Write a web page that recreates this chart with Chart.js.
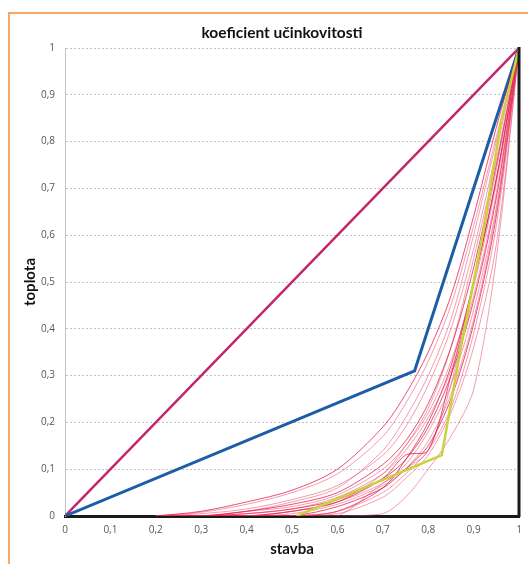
<!DOCTYPE html>
<html>
<head>
<meta charset="utf-8">
<script src="https://cdn.jsdelivr.net/npm/chart.js@4.4.1/dist/chart.umd.min.js"></script>
<style>
  html, body { margin: 0; padding: 0; background: #fff; overflow: hidden; }
  #frame { position: absolute; left: 8px; top: 12px; width: 540px; height: 580px;
           border: 2px solid #f8a766; box-sizing: border-box; }
  #wrap { position: absolute; left: 0; top: 0; width: 528px; height: 564px; }
</style>
</head>
<body>
<div id="frame"></div>
<div id="wrap"><canvas id="chart" width="528" height="564"></canvas></div>
<script>
// axis ticks
var tickValues = [0, 0.1, 0.2, 0.3, 0.4, 0.5, 0.6, 0.7, 0.8, 0.9, 1];
var chartTitle = 'koeficient učinkovitosti';

// reference lines
var diagX = [0, 1];
var diagY = [0, 1];
var blueX = [0, 0.77, 1];
var blueY = [0, 0.31, 1];
var yellowX = [0.51, 0.83, 0.87, 0.92, 0.96, 1];
var yellowY = [0, 0.13, 0.35, 0.6, 0.84, 1];

// thin red curves, all read at the same x positions
var curveX = [0.2, 0.3, 0.4, 0.5, 0.6, 0.7, 0.75, 0.8, 0.85, 0.9, 0.95, 1];
var redCurves = [
  [0, 0.01, 0.03, 0.055, 0.1, 0.19, 0.26, 0.35, 0.47, 0.64, 0.83, 1],
  [0, 0.008, 0.025, 0.05, 0.09, 0.17, 0.24, 0.33, 0.45, 0.62, 0.81, 1],
  [0, 0.005, 0.015, 0.035, 0.065, 0.13, 0.19, 0.28, 0.4, 0.57, 0.78, 1],
  [0, 0, 0.01, 0.025, 0.05, 0.11, 0.16, 0.24, 0.36, 0.53, 0.75, 1],
  [0, 0, 0.01, 0.02, 0.045, 0.1, 0.15, 0.22, 0.33, 0.49, 0.71, 1],
  [0, 0, 0.005, 0.015, 0.04, 0.09, 0.14, 0.21, 0.31, 0.47, 0.69, 1],
  [0, 0, 0.005, 0.015, 0.035, 0.08, 0.12, 0.19, 0.3, 0.46, 0.68, 1],
  [0, 0, 0, 0.01, 0.03, 0.07, 0.11, 0.18, 0.28, 0.44, 0.66, 1],
  [0, 0, 0, 0.005, 0.025, 0.065, 0.1, 0.16, 0.26, 0.42, 0.65, 1],
  [0, 0, 0, 0, 0.02, 0.06, 0.1, 0.15, 0.25, 0.41, 0.64, 1],
  [0, 0, 0, 0, 0.01, 0.05, 0.09, 0.14, 0.23, 0.39, 0.62, 1],
  [0, 0, 0, 0, 0.005, 0.04, 0.08, 0.13, 0.22, 0.36, 0.58, 1],
  [0, 0, 0, 0.01, 0.03, 0.08, 0.13, 0.14, 0.3, 0.5, 0.72, 1],
  [0, 0, 0, 0, 0, 0.005, 0.04, 0.1, 0.17, 0.27, 0.55, 1],
  [0, 0, 0, 0, 0, 0.07, 0.1, 0.14, 0.28, 0.5, 0.74, 1],
  [0, 0, 0, 0, 0.01, 0.06, 0.12, 0.2, 0.32, 0.5, 0.72, 1],
  [0, 0, 0.01, 0.03, 0.06, 0.14, 0.21, 0.3, 0.42, 0.6, 0.8, 1],
  [0, 0, 0, 0.01, 0.03, 0.09, 0.15, 0.23, 0.36, 0.55, 0.76, 1]
];

function pts(xs, ys) {
  return xs.map(function (x, i) { return { x: x, y: ys[i] }; });
}

var datasets = [];
datasets.push({ data: pts(yellowX, yellowY), borderColor: '#c9d23c', borderWidth: 2.5 });
redCurves.forEach(function (ys, i) {
  datasets.push({
    data: pts(curveX, ys),
    borderColor: i % 3 == 0 ? 'rgba(226,20,70,0.75)' : 'rgba(232,60,100,0.5)',
    borderWidth: 1,
    tension: 0.3
  });
});
datasets.push({ data: pts(blueX, blueY), borderColor: '#1d5ca6', borderWidth: 3 });
datasets.push({ data: pts(diagX, diagY), borderColor: '#c2256c', borderWidth: 2.5 });

// thick black right edge of the plot + title text
var frameBits = {
  id: 'frameBits',
  afterDraw: function (chart) {
    var a = chart.chartArea, c = chart.ctx;
    c.save();
    c.strokeStyle = '#1a1a1a';
    c.lineWidth = 3;
    c.beginPath();
    c.moveTo(a.right, a.top - 1);
    c.lineTo(a.right, a.bottom + 1);
    c.stroke();
    c.fillStyle = '#111';
    c.font = 'bold 15.5px Lato';
    c.textAlign = 'center';
    c.textBaseline = 'middle';
    c.fillText(chartTitle, 282, 33);
    c.restore();
  }
};

function fmt(v) {
  return String(Math.round(v * 10) / 10).replace('.', ',');
}

var ctx = document.getElementById('chart').getContext('2d');
new Chart(ctx, {
  type: 'scatter',
  data: { datasets: datasets },
  plugins: [frameBits],
  options: {
    responsive: false,
    animation: false,
    showLine: true,
    elements: { point: { radius: 0 }, line: { fill: false } },
    layout: { padding: { left: 0, right: 9, top: 48, bottom: 0 } },
    plugins: {
      legend: { display: false },
      tooltip: { enabled: false },
      title: { display: false }
    },
    scales: {
      x: {
        type: 'linear', min: 0, max: 1,
        afterBuildTicks: function (s) { s.ticks = tickValues.map(function (v) { return { value: v }; }); },
        afterFit: function (s) { s.height = 48; s.paddingLeft = 0; s.paddingRight = 0; },
        grid: { display: false, drawTicks: false },
        border: { display: true, color: '#1a1a1a', width: 3 },
        ticks: { padding: 8, color: '#555', font: { family: 'Open Sans', size: 10 }, callback: fmt, maxRotation: 0 },
        title: { display: true, text: 'stavba', color: '#111',
                 font: { family: 'Lato', size: 15, weight: 'bold' }, padding: { top: 6, bottom: 6 } }
      },
      y: {
        type: 'linear', min: 0, max: 1,
        afterBuildTicks: function (s) { s.ticks = tickValues.map(function (v) { return { value: v }; }); },
        afterFit: function (s) { s.width = 65; s.paddingTop = 0; s.paddingBottom = 0; },
        grid: { color: '#c4c4c4', lineWidth: 1, drawTicks: false },
        border: { display: true, color: '#c4c4c4', width: 1, dash: [2, 2] },
        ticks: { padding: 10, color: '#555', font: { family: 'Open Sans', size: 10 }, callback: fmt },
        title: { display: true, text: 'toplota', color: '#111',
                 font: { family: 'Lato', size: 15, weight: 'bold' }, padding: { top: 21, bottom: 4 } }
      }
    }
  }
});
</script>
</body>
</html>
